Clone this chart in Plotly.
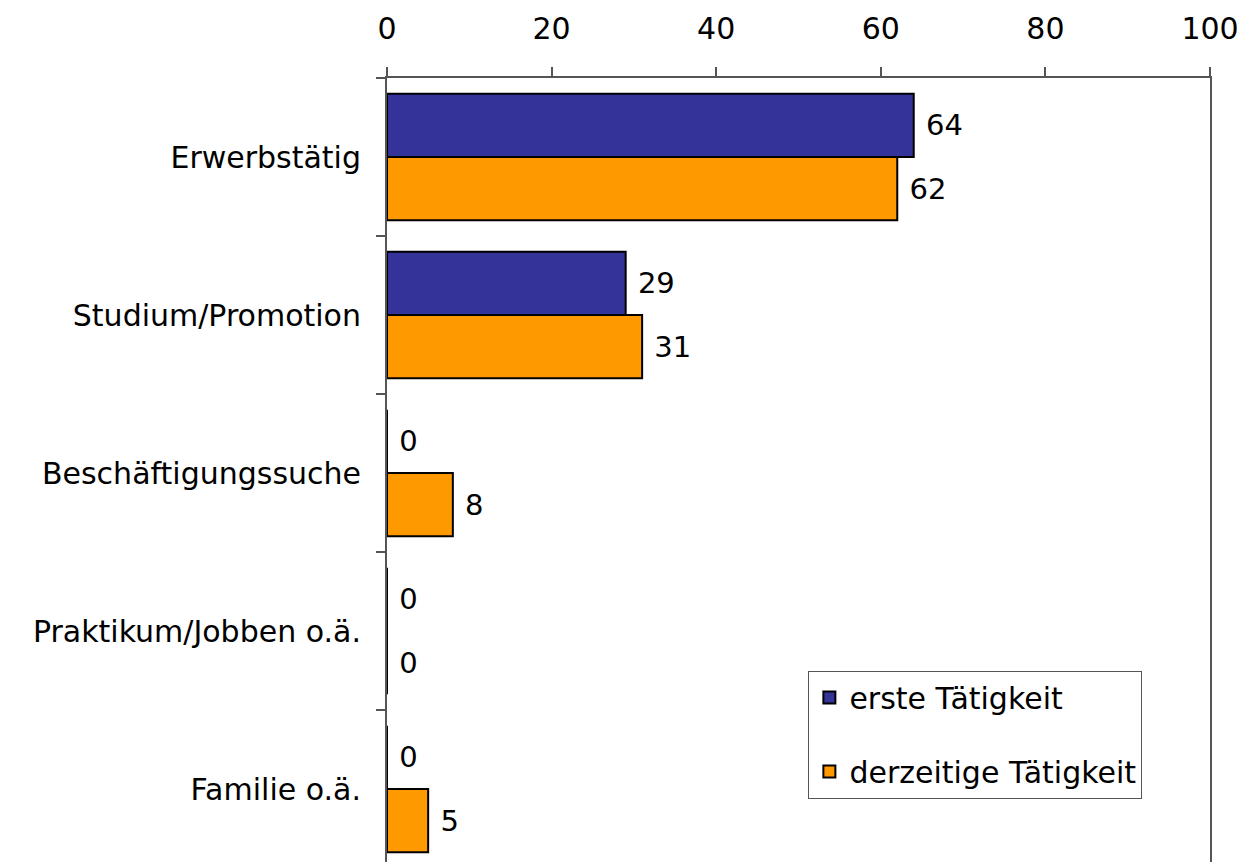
import plotly.graph_objects as go

categories = ["Erwerbstätig", "Studium/Promotion", "Beschäftigungssuche",
              "Praktikum/Jobben o.ä.", "Familie o.ä."]
erste = [64, 29, 0, 0, 0]
derzeitige = [62, 31, 8, 0, 5]
x_ticks = [0, 20, 40, 60, 80, 100]

FONT = "DejaVu Sans"

fig = go.Figure()
fig.add_trace(go.Bar(
    y=categories, x=erste, name="erste Tätigkeit", orientation="h",
    marker=dict(color="#333399", line=dict(color="black", width=2)),
    texttemplate=" %{x}", textposition="outside", cliponaxis=False,
    legendgroup="a",
))
fig.add_trace(go.Bar(
    y=categories, x=derzeitige, name="derzeitige Tätigkeit", orientation="h",
    marker=dict(color="#FF9900", line=dict(color="black", width=2)),
    texttemplate=" %{x}", textposition="outside", cliponaxis=False,
    legendgroup="b",
))

# page body has an 8px default margin, so margins are shifted accordingly;
# the plot area runs a few px past the bottom edge like in the original
fig.update_layout(
    width=1245, height=862,
    margin=dict(l=379, r=43, t=70, b=2),
    paper_bgcolor="white", plot_bgcolor="white",
    font=dict(family=FONT, size=29, color="black"),
    barmode="group", bargap=0.2, bargroupgap=0,
    legend=dict(
        x=0.512, y=0.25, xanchor="left", yanchor="top",
        bordercolor="#555", borderwidth=1, bgcolor="white",
        traceorder="grouped", tracegroupgap=32,
        font=dict(family=FONT, size=30),
    ),
)
fig.update_xaxes(
    side="top", range=[0, 100], tickvals=x_ticks,
    showgrid=False, zeroline=False,
    showline=True, linecolor="#555", linewidth=2,
    ticks="outside", ticklen=9, tickcolor="#555", tickwidth=1.5,
    ticklabelstandoff=16, tickfont=dict(size=30),
)
fig.update_yaxes(
    autorange="reversed", showgrid=False,
    showline=True, linecolor="#555", linewidth=2, mirror=True,
    ticks="outside", ticklen=9, tickcolor="#555", tickwidth=1.5,
    tickson="boundaries", ticklabelstandoff=18, tickfont=dict(size=30),
)

fig.write_html("out.html")
